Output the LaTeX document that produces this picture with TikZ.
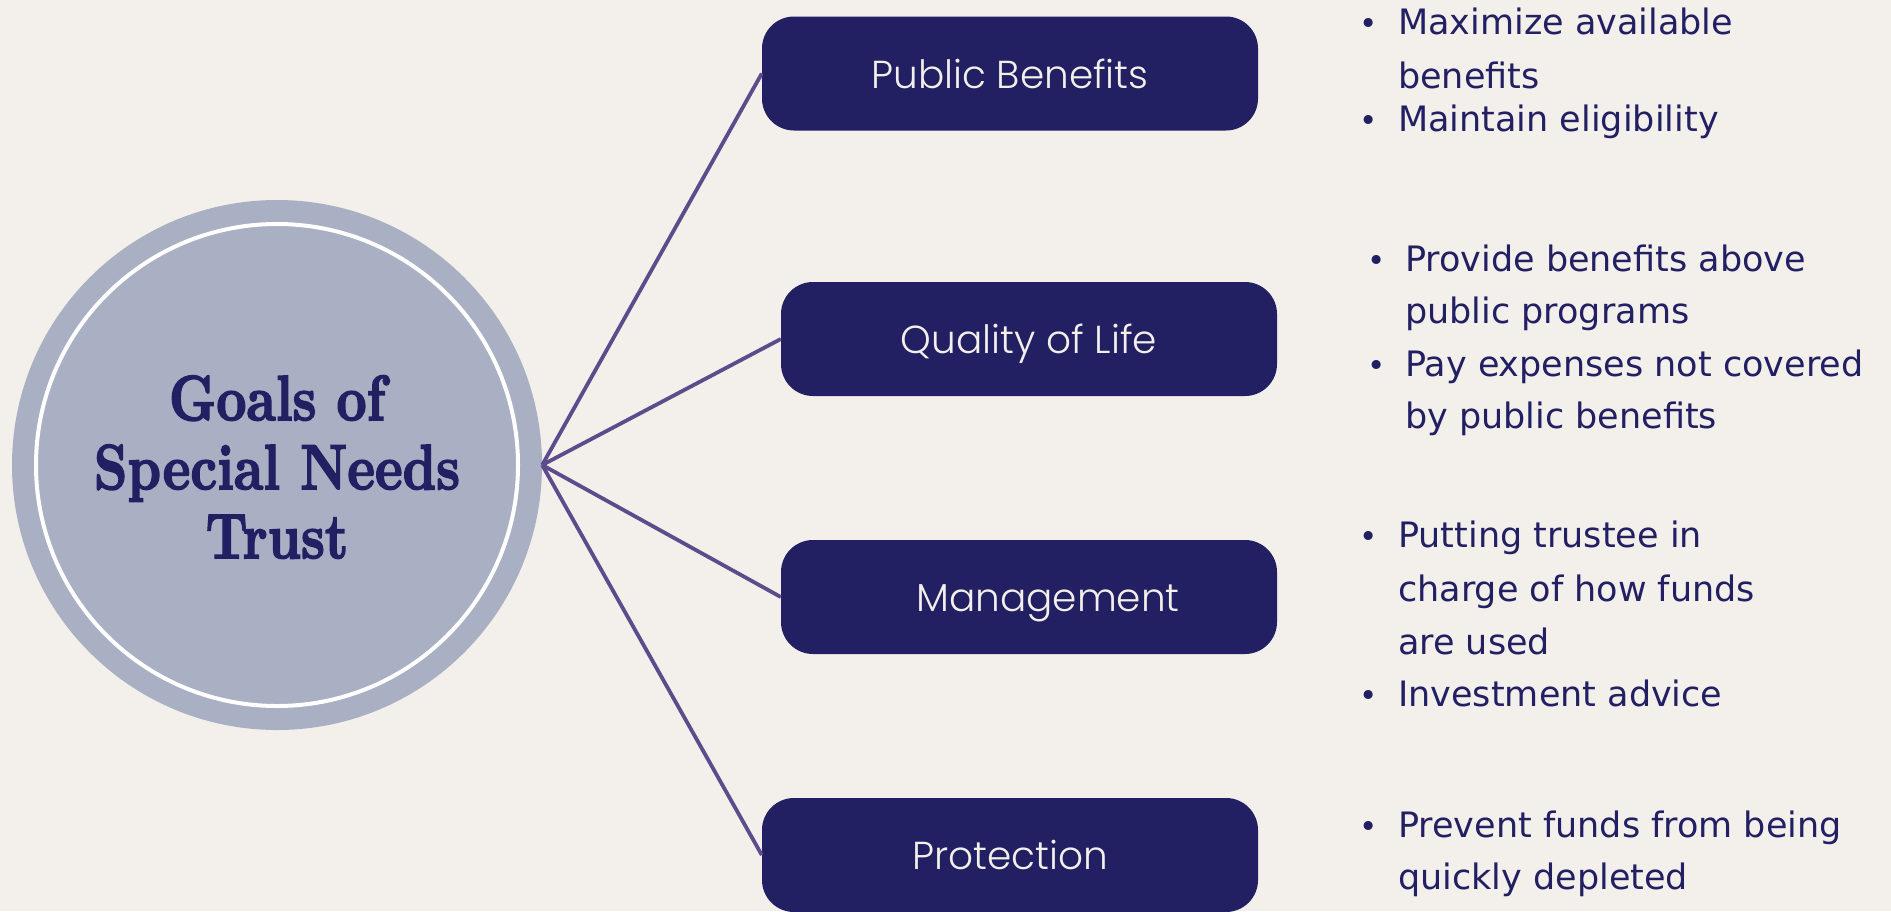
\documentclass[tikz,border=0pt]{standalone}
\usepackage{fontspec}
\usepackage{graphicx}
\newfontfamily\itemfont{DejaVu Sans}
\newfontfamily\boxfont{Poppins Light}
\newfontfamily\titlefont{lmroman10-bold.otf}[FakeBold=2.5]
\definecolor{bg}{HTML}{F3F0EB}
\definecolor{disc}{HTML}{A9B0C3}
\definecolor{navy}{HTML}{221F63}
\definecolor{spokecol}{HTML}{5E4B8B}
\definecolor{cream}{HTML}{F3F0EB}
\begin{document}
\begin{tikzpicture}[x=1pt,y=-1pt,
  goalbox/.style={draw=none, fill=navy, rounded corners=32pt, minimum width=496pt, minimum height=114pt, inner sep=0pt},
  boxlabel/.style={font=\boxfont\fontsize{39}{44}\selectfont, text=cream, text height=27pt, text depth=0pt, inner sep=0pt},
  spoke/.style={draw=spokecol, line width=3.8pt},
  item/.style={font=\itemfont\fontsize{35}{40}\selectfont, text=navy, anchor=base west, inner sep=0pt},
  bulletmark/.style={font=\itemfont\fontsize{31}{36}\selectfont, text=navy, anchor=base, inner sep=0pt},
  titletext/.style={font=\titlefont\fontsize{64}{69}\selectfont, text=navy, align=center, inner sep=0pt}
]
\fill[bg] (0,0) rectangle (1891,911);
\useasboundingbox (0,0) rectangle (1891,911);

% central disc
\node[circle, fill=disc, minimum size=530pt, inner sep=0pt] (hub) at (277,465) {};
\node[circle, draw=white, line width=4pt, minimum size=482pt, inner sep=0pt] (ring) at (277,465) {};
\node[titletext] (title) at (277,467) {\scalebox{0.82}[1]{Goals of}\\\scalebox{0.82}[1]{Special Needs}\\\scalebox{0.82}[1]{Trust}};

% boxes
\node[goalbox] (b1) at (1010,73.5) {};
\node[goalbox] (b2) at (1029,339) {};
\node[goalbox] (b3) at (1029,597) {};
\node[goalbox] (b4) at (1010,855) {};

\node[boxlabel] (l1) at (1010,75) {Public Benefits};
\node[boxlabel] (l2) at (1029,340) {Quality of Life};
\node[boxlabel] (l3) at (1048,598) {Management};
\node[boxlabel] (l4) at (1010,856) {Protection};

% spokes
\draw[spoke] (hub.east) -- (b1.west);
\draw[spoke] (hub.east) -- (b2.west);
\draw[spoke] (hub.east) -- (b3.west);
\draw[spoke] (hub.east) -- (b4.west);

% bullet lists
\node[bulletmark] (d1a) at (1369,34) {•};
\node[item] (t1a) at (1398,34) {Maximize available};
\node[item] (t1b) at (1398,88) {benefits};
\node[bulletmark] (d1b) at (1369,131) {•};
\node[item] (t1c) at (1398,131) {Maintain eligibility};

\node[bulletmark] (d2a) at (1377,271) {•};
\node[item] (t2a) at (1405,271) {Provide benefits above};
\node[item] (t2b) at (1405,323) {public programs};
\node[bulletmark] (d2b) at (1377,376) {•};
\node[item] (t2c) at (1405,376) {Pay expenses not covered};
\node[item] (t2d) at (1405,428) {by public benefits};

\node[bulletmark] (d3a) at (1369,547) {•};
\node[item] (t3a) at (1398,547) {Putting trustee in};
\node[item] (t3b) at (1398,601) {charge of how funds};
\node[item] (t3c) at (1398,654) {are used};
\node[bulletmark] (d3b) at (1369,706) {•};
\node[item] (t3d) at (1398,706) {Investment advice};

\node[bulletmark] (d4a) at (1369,837) {•};
\node[item] (t4a) at (1398,837) {Prevent funds from being};
\node[item] (t4b) at (1398,889) {quickly depleted};
\end{tikzpicture}
\end{document}
